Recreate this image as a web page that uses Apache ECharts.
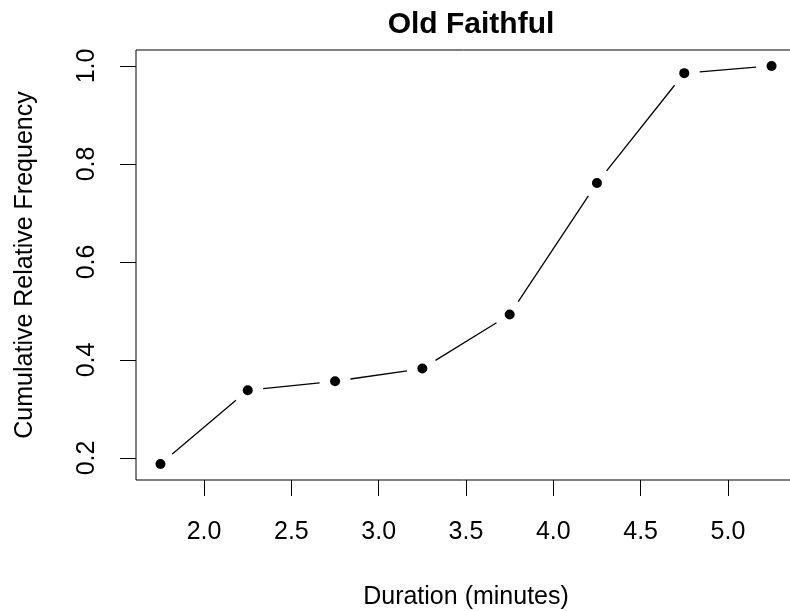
<!DOCTYPE html>
<html>
<head>
<meta charset="utf-8">
<title>Old Faithful</title>
<script src="https://cdn.jsdelivr.net/npm/echarts@6/dist/echarts.min.js"></script>
<style>
  html, body { margin: 0; padding: 0; background: #fff; }
  #chart { width: 790px; height: 611px; }
</style>
</head>
<body>
<div id="chart"></div>
<script>
// class midpoints (minutes) and cumulative relative frequency
const durations = [1.75, 2.25, 2.75, 3.25, 3.75, 4.25, 4.75, 5.25];
const cumFreq = [0.1875, 0.3382, 0.3566, 0.3824, 0.4926, 0.7610, 0.9853, 1.0];
const xTicks = [2.0, 2.5, 3.0, 3.5, 4.0, 4.5, 5.0];
const yTicks = [0.2, 0.4, 0.6, 0.8, 1.0];

const font = 'Liberation Sans';

// R style axis range: data range padded by 4% each side
function padRange(arr) {
  const lo = Math.min.apply(null, arr), hi = Math.max.apply(null, arr);
  const d = (hi - lo) * 0.04;
  return [lo - d, hi + d];
}
const xr = padRange(durations);
const yr = padRange(cumFreq);

const points = durations.map((x, i) => [x, cumFreq[i]]);
const segments = [];
for (let i = 1; i < points.length; i++) {
  segments.push([points[i - 1][0], points[i - 1][1], points[i][0], points[i][1]]);
}

const chart = echarts.init(document.getElementById('chart'));

chart.setOption({
  backgroundColor: '#fff',
  animation: false,
  title: {
    text: 'Old Faithful',
    left: 466,
    top: 5,
    textAlign: 'center',
    textStyle: { fontFamily: font, fontSize: 30, fontWeight: 'bold', color: '#000' }
  },
  grid: {
    left: 136, top: 50, width: 660, height: 430,
    outerBoundsMode: 'none',
    show: true, borderColor: '#000', borderWidth: 1, backgroundColor: 'transparent'
  },
  xAxis: {
    type: 'value',
    min: xr[0], max: xr[1],
    name: 'Duration (minutes)',
    nameLocation: 'middle',
    nameGap: 105,
    nameTextStyle: { fontFamily: font, fontSize: 25, color: '#000' },
    axisLine: { show: false },
    splitLine: { show: false },
    axisTick: { show: true, length: 16, customValues: xTicks, lineStyle: { color: '#000', width: 1 } },
    axisLabel: {
      customValues: xTicks, margin: 40,
      fontFamily: font, fontSize: 25, color: '#000',
      formatter: v => v.toFixed(1)
    }
  },
  yAxis: {
    type: 'value',
    min: yr[0], max: yr[1],
    name: 'Cumulative Relative Frequency',
    nameLocation: 'middle',
    nameRotate: 90,
    nameGap: 98,
    nameTextStyle: { fontFamily: font, fontSize: 25, color: '#000' },
    axisLine: { show: false },
    splitLine: { show: false },
    axisTick: { show: true, length: 16, customValues: yTicks, lineStyle: { color: '#000', width: 1 } },
    axisLabel: {
      customValues: yTicks, margin: 36, rotate: 90,
      fontFamily: font, fontSize: 25, color: '#000',
      formatter: v => v.toFixed(1)
    }
  },
  series: [
    {
      // type="b": segments stop short of each point
      type: 'custom',
      data: segments,
      renderItem: function (params, api) {
        const p0 = api.coord([api.value(0), api.value(1)]);
        const p1 = api.coord([api.value(2), api.value(3)]);
        const dx = p1[0] - p0[0], dy = p1[1] - p0[1];
        const len = Math.sqrt(dx * dx + dy * dy);
        const gap = 15.5;
        if (len <= gap * 2) return null;
        const ux = dx / len, uy = dy / len;
        return {
          type: 'line',
          shape: {
            x1: p0[0] + ux * gap, y1: p0[1] + uy * gap,
            x2: p1[0] - ux * gap, y2: p1[1] - uy * gap
          },
          style: { stroke: '#000', lineWidth: 1.3 }
        };
      }
    },
    {
      type: 'scatter',
      data: points,
      symbol: 'circle',
      symbolSize: 10,
      itemStyle: { color: '#000', opacity: 1 }
    }
  ]
});
</script>
</body>
</html>
